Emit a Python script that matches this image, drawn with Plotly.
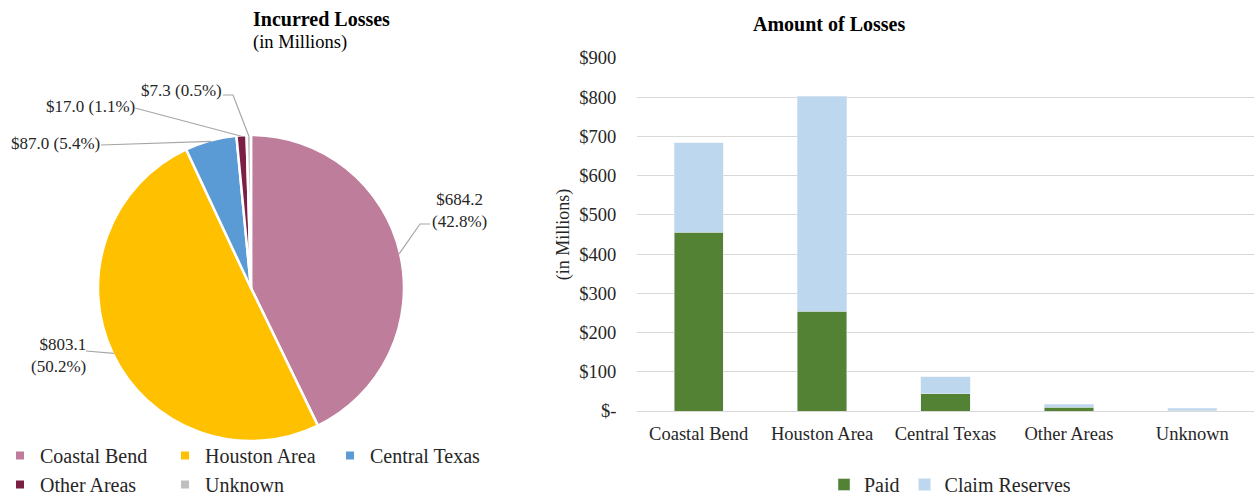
import math
import plotly.graph_objects as go

# ---- data ----
regions = ["Coastal Bend", "Houston Area", "Central Texas", "Other Areas", "Unknown"]
incurred = [684.2, 803.1, 87.0, 17.0, 7.3]
paid = [456.0, 254.0, 44.0, 9.0, 0.5]
reserves = [round(t - p, 1) for t, p in zip(incurred, paid)]
y_ticks = [0, 100, 200, 300, 400, 500, 600, 700, 800, 900]
y_ticktext = ["$-", "$100", "$200", "$300", "$400", "$500", "$600", "$700", "$800", "$900"]

pie_colors = ["#BD7D9B", "#FFC000", "#5B9BD5", "#7B1F45", "#BFBFBF"]
paid_color = "#548235"
res_color = "#BDD7EE"
FONT = "Liberation Serif"
TXT = "#262626"

W, H = 1254, 504
# pie geometry (pixels)
CX, CY, R = 251, 288, 153

fig = go.Figure()
fig.add_trace(go.Pie(
    labels=regions, values=incurred, sort=False, direction="clockwise",
    marker=dict(colors=pie_colors, line=dict(color="white", width=2.5)),
    textinfo="none", hoverinfo="label+value+percent", showlegend=False,
    domain=dict(x=[(CX - R) / W, (CX + R) / W], y=[(H - CY - R) / H, (H - CY + R) / H]),
))

fig.add_trace(go.Bar(x=regions, y=paid, name="Paid", marker_color=paid_color,
                     legend="legend2"))
fig.add_trace(go.Bar(x=regions, y=reserves, name="Claim Reserves", marker_color=res_color,
                     legend="legend2"))

# legend entries for the pie (laid out in columns by legend group)
col_groups = ["c1", "c2", "c3", "c1", "c2"]
for name, col, grp in zip(regions, pie_colors, col_groups):
    fig.add_trace(go.Scatter(
        x=[None], y=[None], mode="markers", name=name, legendgroup=grp,
        marker=dict(symbol="square", size=8, color=col), legend="legend",
        hoverinfo="skip",
    ))

# pie labels with elbow leader lines (label centre, label-side line end, optional elbow)
label_pos = [(459, 211), (58, 356), (55, 143), (90, 106), (181, 90)]
line_start = [(430, 224), (86, 351), (101, 145), (135, 108), (223, 95)]
line_elbow = [(420, 224), None, None, None, (233, 95)]
label_align = ["center", "right", "center", "center", "center"]

def to_paper(x, y):
    return x / W, (H - y) / H

total = sum(incurred)
cum = 0.0
annotations = []
shapes = []
for i, v in enumerate(incurred):
    frac = v / total
    mid = cum + frac / 2
    cum += frac
    ang = 2 * math.pi * mid
    px = CX + (R - 1) * math.sin(ang)
    py = CY - (R - 1) * math.cos(ang)
    pct = 100 * frac
    if frac > 0.3:
        txt = f"${v:.1f}<br>({pct:.1f}%)"
    else:
        txt = f"${v:.1f} ({pct:.1f}%)"
    lx, ly = label_pos[i]
    ax_, ay_ = to_paper(lx, ly)
    annotations.append(dict(
        x=ax_, y=ay_, xref="paper", yref="paper", xanchor="center", yanchor="middle",
        text=txt, showarrow=False, align=label_align[i],
        font=dict(family=FONT, size=17, color=TXT),
    ))
    pts = [line_start[i]] + ([line_elbow[i]] if line_elbow[i] else []) + [(px, py)]
    ppts = [to_paper(*p) for p in pts]
    path = "M " + " L ".join(f"{a:.5f},{b:.5f}" for a, b in ppts)
    shapes.append(dict(type="path", xref="paper", yref="paper", path=path,
                       line=dict(color="#A6A6A6", width=1.2)))

annotations += [
    dict(x=CX / W, y=1 - 19 / H, xref="paper", yref="paper", showarrow=False,
         yanchor="middle", text="<b>Incurred Losses</b>",
         font=dict(family=FONT, size=20, color="black")),
    dict(x=CX / W, y=1 - 42 / H, xref="paper", yref="paper", showarrow=False,
         yanchor="middle", text="(in Millions)", font=dict(family=FONT, size=18.5, color="black")),
    dict(x=907 / W, y=1 - 24 / H, xref="paper", yref="paper", showarrow=False,
         yanchor="middle", text="<b>Amount of Losses</b>",
         font=dict(family=FONT, size=20, color="black")),
]

fig.update_layout(
    width=W, height=H,
    margin=dict(l=0, r=0, t=0, b=0),
    paper_bgcolor="white", plot_bgcolor="white",
    barmode="stack", bargap=0.6,
    font=dict(family=FONT, size=18, color=TXT),
    annotations=annotations,
    shapes=shapes,
    xaxis=dict(domain=[637 / W, 1.0], type="category", categoryorder="array",
               categoryarray=regions, showline=False, showgrid=False, automargin=False,
               ticks="outside", ticklen=6, tickcolor="rgba(0,0,0,0)",
               tickfont=dict(size=18.5, color=TXT)),
    yaxis=dict(domain=[(H - 411) / H, (H - 58) / H], range=[0, 900], automargin=False,
               tickvals=y_ticks, ticktext=y_ticktext, showgrid=True, gridcolor="#D9D9D9",
               gridwidth=1.2, zeroline=True, zerolinecolor="#D9D9D9", zerolinewidth=1.2,
               ticks="outside", ticklen=16, tickcolor="rgba(0,0,0,0)",
               tickfont=dict(size=18.5, color=TXT),
               title=dict(text="(in Millions)", font=dict(size=18, color=TXT), standoff=4)),
    legend=dict(orientation="h", x=0, xanchor="left", y=0, yanchor="bottom",
                bgcolor="rgba(0,0,0,0)",
                font=dict(family=FONT, size=20, color=TXT), itemwidth=30,
                entrywidth=120, traceorder="grouped", itemclick=False, tracegroupgap=0),
    legend2=dict(orientation="h", x=950 / W, xanchor="center", y=0, yanchor="bottom",
                 bgcolor="rgba(0,0,0,0)",
                 font=dict(family=FONT, size=20, color=TXT), itemclick=False,
                 traceorder="normal"),
)

fig.write_html("out.html", config={"displayModeBar": False},
               post_script="document.body.style.margin='0';document.body.style.overflow='hidden';")
